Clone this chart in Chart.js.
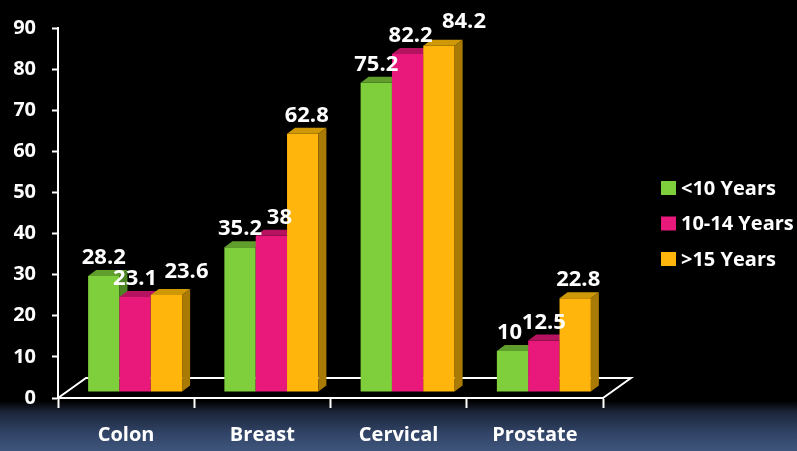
<!DOCTYPE html>
<html>
<head>
<meta charset="utf-8">
<script src="https://cdn.jsdelivr.net/npm/chart.js@4.4.1/dist/chart.umd.min.js"></script>
<style>
  html, body { margin: 0; padding: 0; }
  body {
    width: 797px; height: 451px; overflow: hidden;
    background: linear-gradient(to bottom, #000 0px, #000 401px, #1b2538 412px, #33466a 435px, #3f557b 451px);
  }
  #wrap { position: relative; width: 797px; height: 451px; }
</style>
</head>
<body>
<div id="wrap"><canvas id="chart"></canvas></div>
<script>
var categories = ['Colon', 'Breast', 'Cervical', 'Prostate'];
var seriesNames = ['<10 Years', '10-14 Years', '>15 Years'];
var under10 = [28.2, 35.2, 75.2, 10];
var from10to14 = [23.1, 38, 82.2, 12.5];
var over15 = [23.6, 62.8, 84.2, 22.8];
var yTicks = [0, 10, 20, 30, 40, 50, 60, 70, 80, 90];

var colors = {
    front: ['#7ecf3b', '#e9187b', '#ffb50b'],
    top: ['#5f9d2c', '#b5135f', '#cf9807'],
    side: ['#4c8423', '#9a0f50', '#a97a05']
};

// a few value labels were moved by hand in the original so they don't collide
var labelNudgeX = [[0, 0, 0, -3], [0, 8, 3, 0], [20, 4, 25, 3]];
var labelNudgeY = [[0, 0, 0, 0], [0, 0, 0, 0], [-5, 0, -6, 0]];

// 3d look: bars pushed back into the floor, depth of each box
var SHIFT_X = 9, SHIFT_Y = -6;
var DEPTH_X = 8, DEPTH_Y = 6;
var FLOOR_X = 28, FLOOR_Y = 20;

var fontFamily = '"Open Sans", "DejaVu Sans", sans-serif';

var threeD = {
    id: 'threeD',
    beforeDatasetsDraw: function (chart) {
        var ctx = chart.ctx, a = chart.chartArea;
        ctx.save();
        ctx.strokeStyle = '#ffffff';
        ctx.lineWidth = 2;
        ctx.beginPath();
        ctx.moveTo(a.left, a.bottom);
        ctx.lineTo(a.left + FLOOR_X, a.bottom - FLOOR_Y);
        ctx.lineTo(a.right + FLOOR_X, a.bottom - FLOOR_Y);
        ctx.lineTo(a.right, a.bottom);
        ctx.stroke();
        ctx.restore();
    },
    // bars are drawn below, left series first, so the front of the next bar hides the side of the last
    beforeDatasetDraw: function () {
        return false;
    },
    afterDatasetsDraw: function (chart) {
        var ctx = chart.ctx;
        ctx.save();
        ctx.translate(SHIFT_X, SHIFT_Y);
        chart.data.datasets.forEach(function (ds, i) {
            chart.getDatasetMeta(i).data.forEach(function (bar) {
                bar.draw(ctx);
                var p = bar.getProps(['x', 'y', 'base', 'width'], true);
                var l = p.x - p.width / 2, r = p.x + p.width / 2;
                ctx.fillStyle = colors.top[i];
                ctx.beginPath();
                ctx.moveTo(l, p.y);
                ctx.lineTo(l + DEPTH_X, p.y - DEPTH_Y);
                ctx.lineTo(r + DEPTH_X, p.y - DEPTH_Y);
                ctx.lineTo(r, p.y);
                ctx.closePath();
                ctx.fill();
                ctx.fillStyle = colors.side[i];
                ctx.beginPath();
                ctx.moveTo(r, p.y);
                ctx.lineTo(r + DEPTH_X, p.y - DEPTH_Y);
                ctx.lineTo(r + DEPTH_X, p.base - DEPTH_Y);
                ctx.lineTo(r, p.base);
                ctx.closePath();
                ctx.fill();
            });
        });

        ctx.fillStyle = '#ffffff';
        ctx.font = 'bold 22px ' + fontFamily;
        ctx.textAlign = 'center';
        ctx.textBaseline = 'alphabetic';
        chart.data.datasets.forEach(function (ds, i) {
            chart.getDatasetMeta(i).data.forEach(function (bar, j) {
                ctx.fillText(String(ds.data[j]),
                    bar.x + labelNudgeX[i][j],
                    bar.y - DEPTH_Y - 6 + labelNudgeY[i][j]);
            });
        });
        ctx.restore();

        // legend
        ctx.save();
        ctx.font = 'bold 20px ' + fontFamily;
        ctx.textAlign = 'left';
        ctx.textBaseline = 'middle';
        seriesNames.forEach(function (name, i) {
            var cy = 188 + i * 35.5;
            ctx.fillStyle = colors.front[i];
            ctx.fillRect(661, cy - 7, 15, 14);
            ctx.fillStyle = '#ffffff';
            ctx.fillText(name, 681, cy + 1);
        });
        ctx.restore();
    }
};

var series = [under10, from10to14, over15];
var datasets = series.map(function (vals, i) {
    return {
        label: seriesNames[i],
        data: vals,
        backgroundColor: colors.front[i],
        borderWidth: 0
    };
});

var config = {
    type: 'bar',
    data: { labels: categories, datasets: datasets },
    options: {
        responsive: false,
        animation: false,
        layout: { padding: { left: 14, right: 194, top: 15, bottom: 4 } },
        datasets: { bar: { barPercentage: 1.0, categoryPercentage: 0.69 } },
        plugins: { legend: { display: false }, tooltip: { enabled: false } },
        scales: {
            x: {
                afterFit: function (scale) { scale.height = 49; },
                grid: { drawOnChartArea: false, tickLength: 10, tickColor: '#ffffff', tickWidth: 2 },
                border: { color: '#ffffff', width: 2 },
                ticks: { color: '#ffffff', padding: 15, font: { family: fontFamily, size: 20, weight: 'bold' } }
            },
            y: {
                min: 0,
                max: 90,
                afterFit: function (scale) { scale.width = 44; },
                afterBuildTicks: function (scale) {
                    scale.ticks = yTicks.map(function (v) { return { value: v }; });
                },
                grid: { drawOnChartArea: false, tickLength: 6, tickColor: '#ffffff', tickWidth: 2 },
                border: { color: '#ffffff', width: 2 },
                ticks: { color: '#ffffff', padding: 16, font: { family: fontFamily, size: 20, weight: 'bold' } }
            }
        }
    },
    plugins: [threeD]
};

var canvas = document.getElementById('chart');
canvas.width = 797;
canvas.height = 451;
new Chart(canvas, config);
</script>
</body>
</html>
